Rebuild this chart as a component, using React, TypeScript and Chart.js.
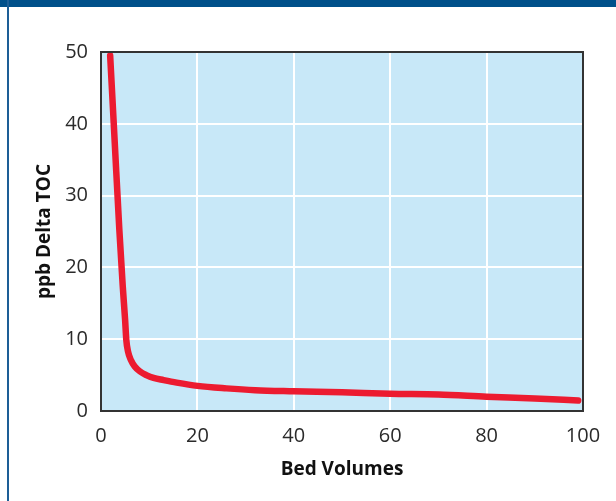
import React, { useEffect, useRef } from "react";
import { Chart, registerables } from "chart.js";

Chart.register(...registerables);

const bedVolumes = [1.9, 2.85, 3.8, 4.5, 5.0, 5.25, 5.6, 6.2, 7.0, 8.1, 9.4, 10.9, 13, 15.7, 20, 26, 32, 40, 50, 60, 70, 80, 90, 99];
const deltaToc = [49.5, 37.4, 25.3, 17.5, 12.7, 9.9, 8.3, 7.1, 6.2, 5.5, 5.0, 4.6, 4.3, 3.95, 3.5, 3.15, 2.9, 2.75, 2.6, 2.4, 2.3, 2.0, 1.75, 1.45];
const xTicks = [0, 20, 40, 60, 80, 100];
const yTicks = [0, 10, 20, 30, 40, 50];

const FONT = "'Open Sans', 'DejaVu Sans', sans-serif";

export default function App() {
  const ref = useRef<HTMLCanvasElement>(null);

  useEffect(() => {
    const plotFrame = {
      id: "plotFrame",
      beforeDraw(chart: any) {
        const { ctx, chartArea: a } = chart;
        ctx.save();
        ctx.fillStyle = "#c8e8f8";
        ctx.fillRect(a.left, a.top, a.right - a.left, a.bottom - a.top);
        ctx.restore();
      },
      afterDraw(chart: any) {
        const { ctx, chartArea: a } = chart;
        ctx.save();
        ctx.strokeStyle = "#333333";
        ctx.lineWidth = 2;
        ctx.strokeRect(a.left, a.top, a.right - a.left, a.bottom - a.top);
        ctx.restore();
      },
    };

    const chart = new Chart(ref.current as HTMLCanvasElement, {
      type: "line",
      data: {
        datasets: [
          {
            data: bedVolumes.map((x, i) => ({ x, y: deltaToc[i] })),
            borderColor: "#ec1b30",
            borderWidth: 6.5,
            borderCapStyle: "round",
            borderJoinStyle: "round",
            pointRadius: 0,
            cubicInterpolationMode: "monotone",
            fill: false,
          },
        ],
      },
      options: {
        animation: false,
        responsive: false,
        maintainAspectRatio: false,
        events: [],
        layout: { padding: { left: 0, top: 52, right: 33, bottom: 0 } },
        plugins: { legend: { display: false }, tooltip: { enabled: false } },
        scales: {
          x: {
            type: "linear",
            min: 0,
            max: 100,
            afterBuildTicks: (s: any) => {
              s.ticks = xTicks.map((v) => ({ value: v }));
            },
            afterFit: (s: any) => {
              s.height = 90;
            },
            grid: { color: "#ffffff", lineWidth: 2, drawTicks: false },
            border: { display: false },
            ticks: {
              padding: 13,
              color: "#2a2a2a",
              font: { family: FONT, size: 20 },
            },
            title: {
              display: true,
              text: "Bed Volumes",
              color: "#111111",
              font: { family: FONT, size: 19, weight: "bold" },
              padding: { top: 0, bottom: 20 },
            },
          },
          y: {
            type: "linear",
            min: 0,
            max: 50,
            afterBuildTicks: (s: any) => {
              s.ticks = yTicks.map((v) => ({ value: v }));
            },
            afterFit: (s: any) => {
              s.width = 101;
            },
            grid: { color: "#ffffff", lineWidth: 2, drawTicks: false },
            border: { display: false },
            ticks: {
              padding: 13,
              color: "#2a2a2a",
              font: { family: FONT, size: 20 },
            },
            title: {
              display: true,
              text: "ppb Delta TOC",
              color: "#111111",
              font: { family: FONT, size: 19, weight: "bold" },
              padding: { top: 33, bottom: 0 },
            },
          },
        },
      },
      plugins: [plotFrame],
    } as any);
    return () => chart.destroy();
  }, []);

  return (
    <div
      style={{
        position: "fixed",
        left: 0,
        top: 0,
        width: 616,
        height: 501,
        background: "#ffffff",
        overflow: "hidden",
      }}
    >
      <div style={{ position: "absolute", left: 0, top: 0, width: 616, height: 7, background: "#00508a" }} />
      <div style={{ position: "absolute", left: 7, top: 0, width: 2, height: 501, background: "#1d5e96" }} />
      <canvas ref={ref} width={616} height={501} style={{ position: "absolute", left: 0, top: 0 }} />
    </div>
  );
}
